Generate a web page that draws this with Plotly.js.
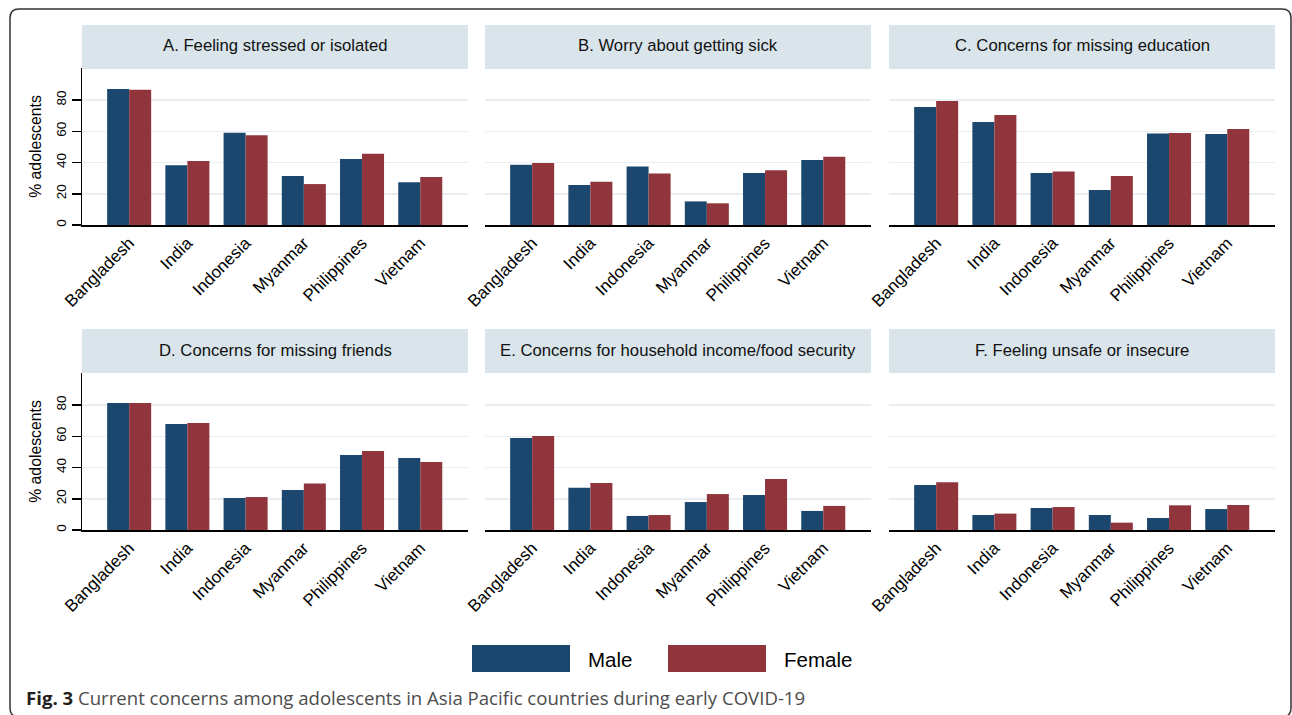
<!DOCTYPE html>
<html>
<head>
<meta charset="utf-8">
<script src="https://cdn.plot.ly/plotly-3.0.1.min.js"></script>
<style>
html,body{margin:0;padding:0;background:#fff;}
#chart{width:1292px;height:715px;}
</style>
</head>
<body>
<div id="chart"></div>
<script>
// ---------- data ----------
const countries = ['Bangladesh','India','Indonesia','Myanmar','Philippines','Vietnam'];
const panelTitles = [
  'A. Feeling stressed or isolated',
  'B. Worry about getting sick',
  'C. Concerns for missing education',
  'D. Concerns for missing friends',
  'E. Concerns for household income/food security',
  'F. Feeling unsafe or insecure'
];
const seriesNames = ['Male','Female'];
const maleA   = [87.0, 38.2, 59.1, 31.4, 42.2, 27.3];
const femaleA = [86.6, 41.0, 57.4, 26.2, 45.6, 30.7];
const maleB   = [38.6, 25.6, 37.5, 15.1, 33.3, 41.6];
const femaleB = [39.7, 27.7, 32.9, 13.9, 35.0, 43.7];
const maleC   = [75.5, 65.9, 33.3, 22.4, 58.5, 58.2];
const femaleC = [79.4, 70.4, 34.3, 31.4, 58.9, 61.4];
const maleD   = [81.3, 67.8, 20.5, 25.6, 48.0, 46.1];
const femaleD = [81.3, 68.5, 21.1, 29.7, 50.6, 43.5];
const maleE   = [58.9, 27.1,  9.0, 17.9, 22.4, 12.2];
const femaleE = [60.2, 30.1,  9.6, 23.0, 32.6, 15.4];
const maleF   = [28.8,  9.6, 14.1,  9.6,  7.7, 13.4];
const femaleF = [30.5, 10.5, 14.7,  4.7, 15.8, 16.0];
const yTicks = [0, 20, 40, 60, 80];
const yAxisTitle = '% adolescents';
const captionBold = 'Fig. 3';
const captionText = 'Current concerns among adolescents in Asia Pacific countries during early COVID-19';

// ---------- styling / geometry ----------
const W = 1292, H = 715;
const X = px => px / W;
const Y = py => 1 - py / H;
const colMale = '#1b476f', colFemale = '#90353b';
const stripColor = '#d9e5eb', gridColor = '#e8eef1';
const FONT = 'Liberation Sans, Arial, sans-serif';

const maleSets = [maleA, maleB, maleC, maleD, maleE, maleF];
const femaleSets = [femaleA, femaleB, femaleC, femaleD, femaleE, femaleF];

const colX = [[82, 468], [485, 871], [889, 1275]];
const rowY = [{strip:[25, 69], plot:[68, 225]}, {strip:[329, 373], plot:[373, 530]}];

const traces = [];
const layout = {
  width: W, height: H,
  margin: {l:0, r:0, t:0, b:0, pad:0},
  paper_bgcolor: '#fff', plot_bgcolor: '#fff',
  showlegend: false,
  barmode: 'group', bargap: 0.244, bargroupgap: 0,
  font: {family: FONT, color: '#000'},
  shapes: [], annotations: []
};

for (let i = 0; i < 6; i++) {
  const r = Math.floor(i / 3), c = i % 3;
  const n = i + 1;
  const xa = 'x' + (n === 1 ? '' : n), ya = 'y' + (n === 1 ? '' : n);
  traces.push({type:'bar', x: countries, y: maleSets[i], name: seriesNames[0],
    marker:{color: colMale, line:{width:0}}, xaxis: xa, yaxis: ya, hoverinfo:'none'});
  traces.push({type:'bar', x: countries, y: femaleSets[i], name: seriesNames[1],
    marker:{color: colFemale, line:{width:0}}, xaxis: xa, yaxis: ya, hoverinfo:'none'});

  const xkey = 'xaxis' + (n === 1 ? '' : n), ykey = 'yaxis' + (n === 1 ? '' : n);
  layout[xkey] = {
    domain: [X(colX[c][0]), X(colX[c][1])],
    anchor: ya,
    type: 'category',
    range: [-0.81, 5.82],
    showline: true, linecolor: '#000', linewidth: 1.5,
    ticks: '', tickangle: -45,
    tickfont: {size: 17, family: FONT, color: '#000'},
    showgrid: false, zeroline: false, fixedrange: true
  };
  const isLeft = c === 0;
  layout[ykey] = {
    domain: [Y(rowY[r].plot[1]), Y(rowY[r].plot[0])],
    anchor: xa,
    range: [0, 100.5],
    tickmode: 'array', tickvals: yTicks, ticktext: yTicks.map(String),
    showgrid: true, gridcolor: gridColor, gridwidth: 1.5,
    zeroline: false,
    showline: isLeft, linecolor: '#000', linewidth: 1.5,
    ticks: isLeft ? 'outside' : '', ticklen: 9, tickwidth: 1.5, tickcolor: '#000',
    showticklabels: isLeft, tickangle: -90,
    tickfont: {size: 13.5, family: FONT, color: '#000'},
    fixedrange: true
  };
  if (isLeft) {
    layout[ykey].title = {text: yAxisTitle, font: {size: 15.8, family: FONT, color: '#000'}, standoff: 8};
  }
  // strip
  layout.shapes.push({type:'rect', xref:'paper', yref:'paper', layer:'below',
    x0: X(colX[c][0]), x1: X(colX[c][1]), y0: Y(rowY[r].strip[1]), y1: Y(rowY[r].strip[0]),
    fillcolor: stripColor, line:{width:0}});
  layout.annotations.push({xref:'paper', yref:'paper', showarrow:false,
    x: X((colX[c][0] + colX[c][1]) / 2), y: Y((rowY[r].strip[0] + rowY[r].strip[1]) / 2 - 1),
    xanchor:'center', yanchor:'middle', text: panelTitles[i],
    font:{size: 16.7, family: FONT, color:'#111'}});
}

// legend (drawn manually to match the large swatches)
const legendItems = [
  {name: seriesNames[0], color: colMale, x0: 472, x1: 570, tx: 586},
  {name: seriesNames[1], color: colFemale, x0: 668, x1: 766, tx: 782}
];
legendItems.forEach(it => {
  layout.shapes.push({type:'rect', xref:'paper', yref:'paper',
    x0: X(it.x0), x1: X(it.x1), y0: Y(672), y1: Y(645),
    fillcolor: it.color, line:{width:0}});
  layout.annotations.push({xref:'paper', yref:'paper', showarrow:false,
    x: X(it.tx), y: Y(659), xanchor:'left', yanchor:'middle', text: it.name,
    font:{size: 20.5, family: FONT, color:'#000'}});
});

// frame
const fx0 = 10, fx1 = 1291, fy0 = 9, fy1 = 717, rr = 9;
layout.shapes.push({type:'path', xref:'paper', yref:'paper',
  path: `M ${X(fx0)},${Y(fy1 - rr)} L ${X(fx0)},${Y(fy0 + rr)} Q ${X(fx0)},${Y(fy0)} ${X(fx0 + rr)},${Y(fy0)} ` +
        `L ${X(fx1 - rr)},${Y(fy0)} Q ${X(fx1)},${Y(fy0)} ${X(fx1)},${Y(fy0 + rr)} L ${X(fx1)},${Y(fy1 - rr)} ` +
        `Q ${X(fx1)},${Y(fy1)} ${X(fx1 - rr)},${Y(fy1)} L ${X(fx0 + rr)},${Y(fy1)} Q ${X(fx0)},${Y(fy1)} ${X(fx0)},${Y(fy1 - rr)}`,
  line:{color:'#333', width:1.5}});

// caption
layout.annotations.push({xref:'paper', yref:'paper', showarrow:false,
  x: X(24), y: Y(697), xanchor:'left', yanchor:'middle',
  text: `<b><span style="color:#231f20">${captionBold}</span></b> <span style="color:#4d4d4d">${captionText}</span>`,
  font:{size: 18.6, family: 'Open Sans, Noto Sans, sans-serif', color:'#4d4d4d'}});

Plotly.newPlot('chart', traces, layout, {staticPlot: true, displayModeBar: false});
</script>
</body>
</html>
